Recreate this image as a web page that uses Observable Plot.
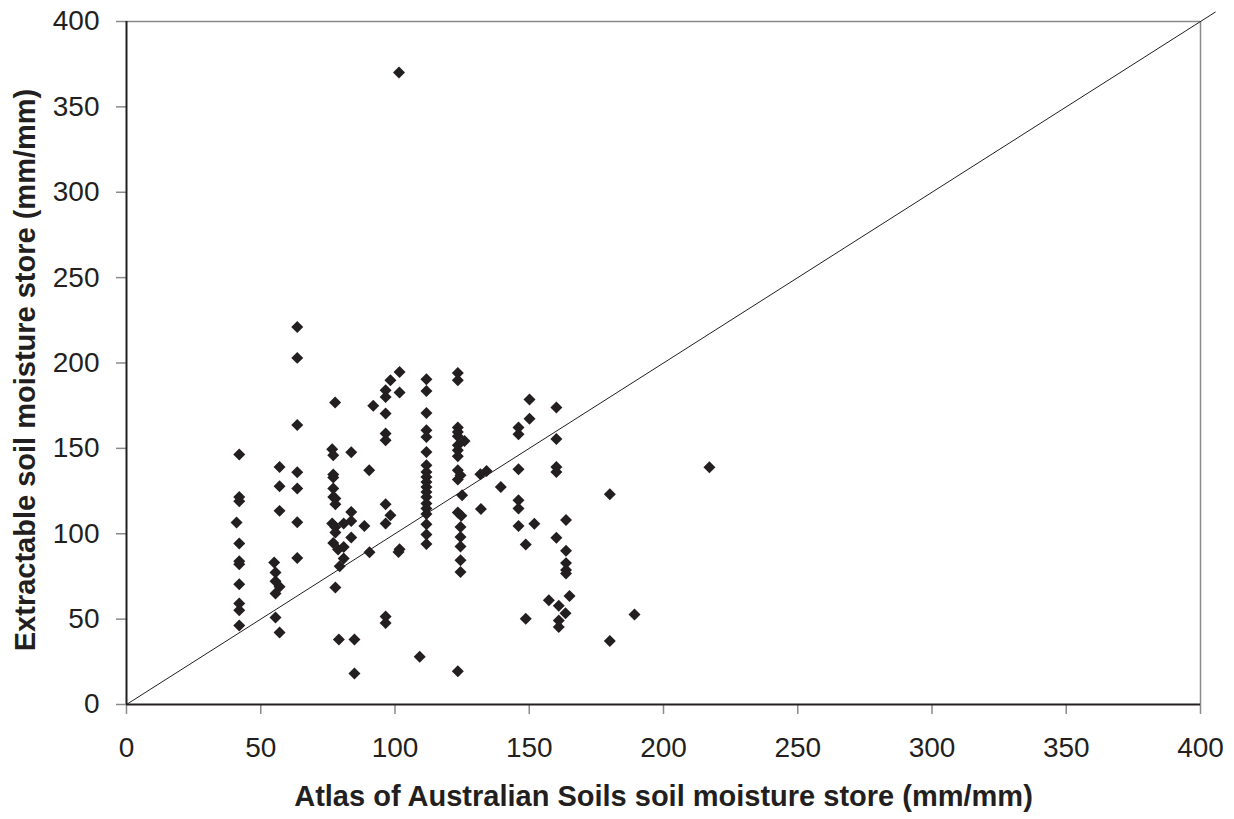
<!DOCTYPE html>
<html>
<head>
<meta charset="utf-8">
<script src="https://cdn.jsdelivr.net/npm/d3@7"></script>
<script src="https://cdn.jsdelivr.net/npm/@observablehq/plot@0.6"></script>
<style>
  html, body { margin: 0; padding: 0; background: #fff; }
  #chart { width: 1234px; height: 819px; }
</style>
</head>
<body>
<div id="chart"></div>
<script>
// Atlas of Australian Soils store (x) and extractable store (y)
const atlasStore = [
  42,42,42,41,42,42,42,42,42,42,42,
  57,57,57,55,55.5,55.5,57,55.5,55.5,57,
  63.6,63.6,63.6,63.6,63.6,63.6,63.6,
  77.7,76.6,77,77,77,77,77,77.8,77.8,76.6,77.8,77.8,77,78.8,79.4,77.8,79.1,
  83.7,83.7,83.7,80.9,83.7,80.9,80.9,84.9,84.9,
  91.9,90.4,88.6,90.5,
  98.3,96.5,96.5,96.5,96.5,96.5,96.5,98.3,96.5,96.5,96.5,
  101.5,101.7,101.7,101.7,101.3,
  109.2,
  111.7,111.7,111.7,111.7,111.7,111.7,111.7,111.7,111.7,111.7,111.7,111.7,111.7,111.7,111.7,111.7,111.7,111.7,111.7,
  123.4,123.4,123.4,123.4,123.4,125.9,123.4,123.4,123.4,123.4,124.4,123.4,125,123.4,124.7,124.4,124.4,124.4,124.4,124.4,123.4,
  131.8,134.1,132,139.4,
  146,146,146,146,146,146,148.7,148.7,
  150.1,150.1,151.9,
  157.3,
  160.1,160.1,160.1,160.1,160.1,
  161,161,161,
  163.7,163.7,163.7,163.7,163.7,163.5,
  165,
  180,180,
  189.2,
  217.1
];
const extractableStore = [
  146.4,121.5,119,106.6,94.3,83.9,82.1,70.4,59.1,55.2,46.3,
  139.1,127.8,113.4,83.1,77.3,72.2,68.9,65,50.9,42.2,
  221.1,203,163.7,136,126.5,106.7,85.8,
  176.8,149.5,146,134.7,132.9,126.5,121.5,120.6,117.3,106,104,100.7,94.6,90.8,81,68.5,38.1,
  147.7,112.8,107.5,106,97.8,92.3,85.5,38.1,18.1,
  175,137.2,104.6,89.2,
  189.9,184,180.1,170.4,158.7,154.7,117.3,110.8,106,51.5,47.8,
  370.2,194.7,182.7,90.9,89.3,
  27.9,
  190.5,183.6,170.7,160.6,156.7,147.9,140.1,136.2,133.3,130.3,127.4,124.5,121.5,117.7,114.8,111.5,105.5,99.6,94,
  194.1,189.9,162.2,159.6,157.1,154.3,151.8,148.9,145.4,137.2,134.3,131.7,122.5,112.5,110.5,104,98.1,92.5,84.5,77.6,19.5,
  134.8,136.8,114.5,127.4,
  162.2,158.3,137.8,119.6,114.8,104.6,93.7,50.2,
  178.6,167.4,105.8,
  61.1,
  173.9,155.5,139.1,136.2,97.6,
  57.9,49.2,45.4,
  108.1,90.1,82.8,78.8,76.7,53.4,
  63.5,
  123.1,37.2,
  52.7,
  139
];
const xTicks = [0, 50, 100, 150, 200, 250, 300, 350, 400];
const yTicks = [0, 50, 100, 150, 200, 250, 300, 350, 400];
const oneToOne = [[0, 0], [405.5, 405.5]];
const xTitle = "Atlas of Australian Soils soil moisture store (mm/mm)";
const yTitle = "Extractable soil moisture store (mm/mm)";

const points = atlasStore.map((x, i) => ({x, y: extractableStore[i]}));
const ink = "#231f20";

const chart = Plot.plot({
  width: 1234,
  height: 819,
  marginLeft: 126,
  marginRight: 34,
  marginTop: 21,
  marginBottom: 115,
  style: {fontFamily: "'Liberation Sans', Arial, sans-serif", fontSize: "28px", color: ink, background: "#fff"},
  x: {domain: [0, 400], ticks: xTicks, tickSize: 10, tickPadding: 23, label: null},
  y: {domain: [0, 400], ticks: yTicks, tickSize: 10, tickPadding: 17, label: null},
  marks: [
    Plot.ruleY([400], {stroke: "#8a8a8a", strokeWidth: 1.5}),
    Plot.ruleX([400], {stroke: "#8a8a8a", strokeWidth: 1.5}),
    Plot.axisX({ticks: xTicks, tickSize: 10, tickPadding: 23, stroke: "#8a8a8a", strokeWidth: 1.5, fill: ink, fontSize: 28, label: null}),
    Plot.axisY({ticks: yTicks, tickSize: 10, tickPadding: 17, stroke: "#8a8a8a", strokeWidth: 1.5, fill: ink, fontSize: 28, label: null}),
    Plot.ruleX([0], {stroke: ink, strokeWidth: 2}),
    Plot.ruleY([0], {stroke: ink, strokeWidth: 2}),
    Plot.line(oneToOne, {x: d => d[0], y: d => d[1], stroke: ink, strokeWidth: 1, clip: false}),
    Plot.dot(points, {x: "x", y: "y", symbol: "diamond2", r: 5.4, fill: ink, stroke: "none"}),
    Plot.text([xTitle], {frameAnchor: "bottom", textAnchor: "middle", lineAnchor: "bottom", dy: 101, text: d => d, fontSize: 29, fontWeight: "bold", fill: ink}),
    Plot.text([yTitle], {frameAnchor: "left", textAnchor: "middle", rotate: -90, dx: -101, dy: 7, text: d => d, fontSize: 29, fontWeight: "bold", fill: ink})
  ]
});
document.getElementById("chart").appendChild(chart);
</script>
</body>
</html>
